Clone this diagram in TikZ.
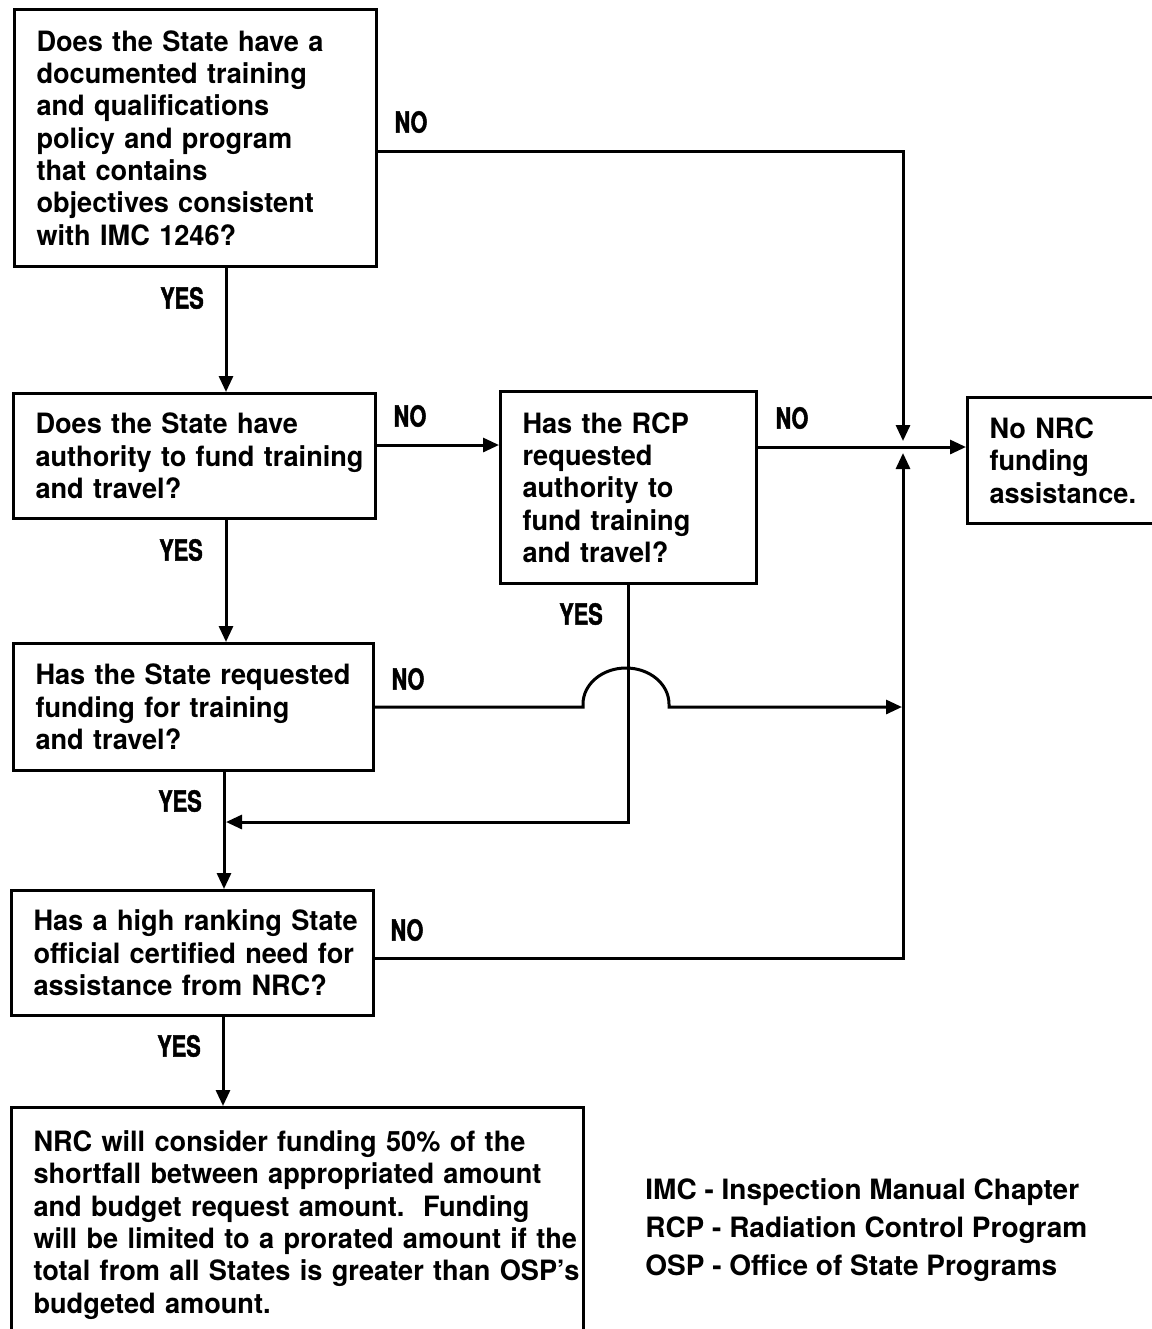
\documentclass[tikz,border=0pt]{standalone}
\usepackage{fontspec}
\setmainfont{TeX Gyre Heros}
\newfontfamily\boxfont[FakeStretch=0.97,WordSpace=0.9]{TeX Gyre Heros}
\newfontfamily\lblfont[FakeStretch=0.75,FakeBold=1.5]{TeX Gyre Heros}
\usetikzlibrary{arrows.meta,calc}
\tikzset{
  box/.style={draw, line width=1.5pt, anchor=north west, inner xsep=11pt, inner ysep=0pt,
    align=left, font=\boxfont\bfseries\fontsize{14}{16.15}\selectfont},
  arr/.style={line width=1.5pt, -{Triangle[length=8pt,width=7pt]}},
  ln/.style={line width=1.5pt},
  lbl/.style={font=\lblfont\bfseries\fontsize{14.5}{15}\selectfont, inner sep=0pt},
}
\begin{document}
\begin{tikzpicture}[x=0.5pt,y=-0.5pt]
\useasboundingbox (0,0) rectangle (1152,1329);
% boxes
\node[box, text width=159pt, minimum height=128.5pt] (b1) at (13,8)
  {\mbox{Does the State have a}\\\mbox{documented training}\\\mbox{and qualifications}\\\mbox{policy and program}\\\mbox{that contains}\\\mbox{objectives consistent}\\\mbox{with IMC 1246?}};
\node[box, text width=159pt, minimum height=62.5pt] (b2) at (12,392)
  {\mbox{Does the State have}\\\mbox{authority to fund training}\\\mbox{and travel?}};
\node[box, text width=106pt, minimum height=96pt] (b3) at (499,390)
  {\mbox{Has the RCP}\\\mbox{requested}\\\mbox{authority to}\\\mbox{fund training}\\\mbox{and travel?}};
\node[box, text width=158pt, minimum height=63.5pt] (b4) at (12,642)
  {\mbox{Has the State requested}\\\mbox{funding for training}\\\mbox{and travel?}};
\node[box, text width=159pt, minimum height=62.5pt] (b5) at (10,889)
  {\mbox{Has a high ranking State}\\\mbox{official certified need for}\\\mbox{assistance from NRC?}};
\node[box, text width=264pt, minimum height=117.5pt] (b6) at (10,1106)
  {\mbox{NRC will consider funding 50\% of the}\\\mbox{shortfall between appropriated amount}\\\mbox{and budget request amount.\ \ Funding}\\\mbox{will be limited to a prorated amount if the}\\\mbox{total from all States is greater than OSP’s}\\\mbox{budgeted amount.}};
\node[box, text width=73pt, minimum height=63pt] (b7) at (966,396)
  {\mbox{No NRC}\\\mbox{funding}\\\mbox{assistance.}};
\node[anchor=west, align=left, inner sep=0pt, font=\bfseries\fontsize{14}{19}\selectfont] (legend) at (645,1230)
  {IMC - Inspection Manual Chapter\\RCP - Radiation Control Program\\OSP - Office of State Programs};
% labels
\node[lbl] (n1) at (411,122) {NO};
\node[lbl] (y1) at (182,298) {YES};
\node[lbl] (n2) at (410,416) {NO};
\node[lbl] (n3) at (792,418) {NO};
\node[lbl] (y2) at (181,550) {YES};
\node[lbl] (y3) at (581,614) {YES};
\node[lbl] (n4) at (408,679) {NO};
\node[lbl] (y4) at (180,801) {YES};
\node[lbl] (n5) at (407,930) {NO};
\node[lbl] (y5) at (179,1046) {YES};
% junction coordinates
\coordinate (jt) at (903,441);
\coordinate (jb) at (903,453);
\coordinate (n4end) at (902,707);
\coordinate (y3end) at (226,822);
% connectors
\draw[arr] ($(b1.north east)+(0,143)$) -| (jt);
\draw[arr] ($(b5.north east)+(0,69)$) -| (jb);
\draw[arr] ($(b2.north east)+(0,53)$) -- ($(b3.north west)+(0,55)$);
\draw[arr] ($(b3.north east)+(0,57)$) -- ($(b7.north west)+(0,51)$);
\draw[arr] ($(b1.south west)+(213,0)$) -- ($(b2.north west)+(214,0)$);
\draw[arr] ($(b2.south west)+(214,0)$) -- ($(b4.north west)+(214,0)$);
\draw[arr] ($(b4.south west)+(212,0)$) -- ($(b5.north west)+(214,0)$);
\draw[arr] ($(b5.south west)+(213,0)$) -- ($(b6.north west)+(213,0)$);
\draw[arr] ($(b3.south west)+(129,0)$) |- (y3end);
\draw[arr] ($(b4.north east)+(0,65)$) -- (583,707) -- (583,704)
  arc[start angle=180, end angle=0, x radius=21.5pt, y radius=18pt] -- (669,707) -- (n4end);
\end{tikzpicture}
\end{document}
